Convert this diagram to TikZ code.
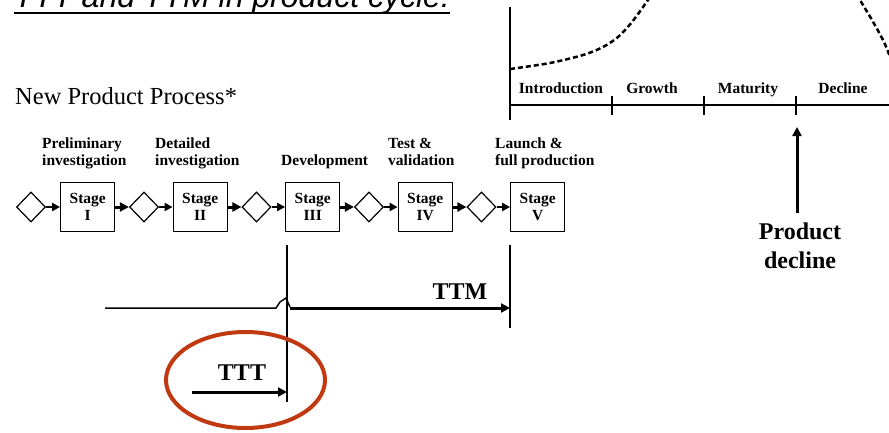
\documentclass[tikz,border=0pt]{standalone}
\usepackage{fontspec}
\setmainfont{Liberation Serif}
\newfontfamily\titlefont{Liberation Sans}
\usetikzlibrary{positioning,shapes.geometric,arrows.meta}
\definecolor{circred}{RGB}{192,57,16}

\begin{document}
\begin{tikzpicture}[x=1pt, y=-1pt,
    every node/.style={font=\fontsize{15.5}{17}\selectfont\bfseries, inner sep=0pt},
    stagebox/.style={draw, line width=1.3pt, minimum width=54pt, minimum height=49pt, align=center},
    gate/.style={draw, diamond, line width=1.2pt, minimum width=29pt, minimum height=30pt},
    thinarrow/.style={line width=2pt, -{Triangle[length=8pt,width=8pt]}},
    thickarrow/.style={line width=3pt, -{Triangle[length=9pt,width=9pt]}},
    biglabel/.style={font=\fontsize{24}{29}\selectfont\bfseries, align=center}]
    \useasboundingbox (0,0) rectangle (889,432);
    \clip (0,0) rectangle (889,432);

    % title, mostly cut off at the top
    \node[font=\titlefont\itshape\fontsize{32}{36}\selectfont, anchor=base west] (title) at (14,7) {TTT and TTM in product cycle:};
    \draw[line width=2pt] ([yshift=-5.5pt]title.base west) -- ([yshift=-5.5pt]title.base east);

    \node[font=\fontsize{24.5}{29}\selectfont, anchor=base west] (npp) at (15,104) {New Product Process*};

    % stages and gates
    \node[gate] (d1) at (31,207) {};
    \node[stagebox, right=14pt of d1] (s1) {Stage\\I};
    \node[gate, right=13.5pt of s1] (d2) {};
    \node[stagebox, right=13.5pt of d2] (s2) {Stage\\II};
    \node[gate, right=13.5pt of s2] (d3) {};
    \node[stagebox, right=13.5pt of d3] (s3) {Stage\\III};
    \node[gate, right=13.5pt of s3] (d4) {};
    \node[stagebox, right=13.5pt of d4] (s4) {Stage\\IV};
    \node[gate, right=13.5pt of s4] (d5) {};
    \node[stagebox, right=13.5pt of d5] (s5) {Stage\\V};
    \foreach \i in {1,...,5} {
        \draw[thinarrow] (d\i) -- (s\i);
    }
    \foreach \i/\j in {1/2, 2/3, 3/4, 4/5} {
        \draw[thickarrow] (s\i) -- (d\j);
    }

    \node[anchor=base west, align=left] (l1) at (42,165) {Preliminary\\investigation};
    \node[anchor=base west, align=left] (l2) at (155,165) {Detailed\\investigation};
    \node[anchor=base west] (l3) at (281,165) {Development};
    \node[anchor=base west, align=left] (l4) at (388,165) {Test \&\\validation};
    \node[anchor=base west, align=left] (l5) at (495,165) {Launch \&\\full production};

    % product life cycle
    \coordinate (ytop) at (510,7);
    \coordinate (ybot) at (510,120);
    \coordinate (xleft) at (510,105);
    \coordinate (xright) at (889,105);
    \draw[line width=1.5pt] (ytop) -- (ybot);
    \draw[line width=1.5pt] (xleft) -- (xright);
    \foreach \x in {612, 704, 796} {
        \draw[line width=1.5pt] (\x,96) -- (\x,115);
    }
    \node[anchor=base] (intro) at (561,93) {Introduction};
    \node[anchor=base] (growth) at (652,93) {Growth};
    \node[anchor=base] (mature) at (748,93) {Maturity};
    \node[anchor=base] (decl) at (843,93) {Decline};
    \draw[line width=2.5pt, dash pattern=on 5pt off 3pt]
        plot[smooth] coordinates {(510,69) (550,63) (583,55) (603,47) (618,37) (632,22) (648,0) (652,-6)};
    \draw[line width=2.5pt, dash pattern=on 5pt off 3pt]
        plot[smooth] coordinates {(857,-6) (860,0) (872,20) (884,42) (892,62)};

    \node[biglabel, anchor=base] (pd) at (800,268) {Product\\decline};
    \coordinate (pdfoot) at (797,213);
    \coordinate (pdtip) at (797,127);
    \draw[thickarrow] (pdfoot) -- (pdtip);

    % TTT and TTM
    \coordinate (devtop) at (287,245);
    \coordinate (devbot) at (287,402);
    \coordinate (launchtop) at (510,245);
    \coordinate (launchbot) at (510,328);
    \draw[line width=1.5pt] (devtop) -- (devbot);
    \draw[line width=1.5pt] (launchtop) -- (launchbot);
    \coordinate (ttmstart) at (105,308);
    \coordinate (ttmhop) at (290,308);
    \coordinate (ttmend) at (510,308);
    \draw[line width=1.5pt] (ttmstart) -- (276,308) -- (280,302) -- (286,298) -- (290,307);
    \draw[thickarrow] (ttmhop) -- (ttmend);
    \node[biglabel, anchor=base] (ttm) at (460,299) {TTM};

    \coordinate (tttstart) at (192,392);
    \coordinate (tttend) at (287,392);
    \draw[thickarrow] (tttstart) -- (tttend);
    \node[biglabel, anchor=base] (ttt) at (242,380) {TTT};
    \draw[circred, line width=4pt] (245.5,380) ellipse (79.5 and 48);
\end{tikzpicture}
\end{document}
